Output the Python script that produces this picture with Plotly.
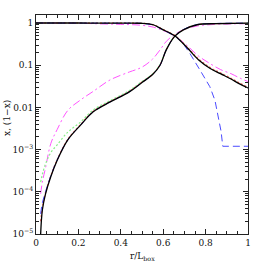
import plotly.graph_objects as go

# ---- data ----
r_rise = [0.022, 0.03, 0.045, 0.07, 0.1, 0.15, 0.21, 0.27, 0.35, 0.44, 0.5, 0.55,
          0.585, 0.615, 0.655, 0.695, 0.76, 0.85, 0.93, 1.0]
x_black = [1.0e-5, 3.7e-5, 8.9e-5, 2.3e-4, 5.6e-4, 1.7e-3, 3.8e-3, 7.9e-3, 1.35e-2, 2.34e-2,
           3.9e-2, 6.0e-2, 0.10, 0.234, 0.49, 0.69, 0.91, 0.966, 0.977, 0.99]
x_blue = [3.0e-5, 5.5e-5, 1.0e-4, 2.4e-4, 5.7e-4, 1.7e-3, 3.8e-3, 7.9e-3, 1.35e-2, 2.34e-2,
          3.9e-2, 6.0e-2, 0.10, 0.235, 0.49, 0.70, 0.92, 0.975, 0.99, 0.995]
x_red = [2.0e-5, 4.2e-5, 9.5e-5, 2.4e-4, 5.8e-4, 1.75e-3, 3.9e-3, 8.1e-3, 1.38e-2, 2.4e-2,
         4.0e-2, 6.1e-2, 0.102, 0.236, 0.49, 0.69, 0.91, 0.966, 0.977, 0.99]
x_green = [1.7e-4, 2.6e-4, 4.6e-4, 8.5e-4, 1.3e-3, 2.6e-3, 4.5e-3, 8.7e-3, 1.45e-2, 2.5e-2,
           4.1e-2, 6.2e-2, 0.104, 0.238, 0.49, 0.69, 0.91, 0.966, 0.977, 0.99]
x_magenta = [9.0e-5, 1.7e-4, 3.7e-4, 1.4e-3, 3.0e-3, 8.5e-3, 1.5e-2, 2.4e-2, 4.5e-2, 6.9e-2,
             9.0e-2, 0.14, 0.23, 0.37, 0.54, 0.69, 0.85, 0.93, 0.955, 0.965]

r_fall = [0.0, 0.2, 0.3, 0.4, 0.49, 0.553, 0.6, 0.632, 0.656, 0.71, 0.766, 0.82, 0.87,
          0.92, 0.96, 1.0]
n_black = [1.0, 1.0, 0.998, 0.995, 0.988, 0.91, 0.69, 0.575, 0.49, 0.27, 0.135, 0.085,
           0.063, 0.047, 0.036, 0.029]
n_red = [1.0, 1.0, 0.998, 0.995, 0.988, 0.91, 0.70, 0.585, 0.50, 0.28, 0.142, 0.089,
         0.066, 0.049, 0.038, 0.030]
n_green = [1.0, 1.0, 0.998, 0.995, 0.988, 0.91, 0.69, 0.58, 0.495, 0.275, 0.138, 0.087,
           0.064, 0.048, 0.037, 0.0295]
n_magenta = [1.0, 0.99, 0.955, 0.93, 0.89, 0.80, 0.66, 0.57, 0.49, 0.30, 0.166, 0.11,
             0.079, 0.063, 0.05, 0.041]

r_fall_blue = [0.0, 0.2, 0.3, 0.4, 0.49, 0.553, 0.6, 0.632, 0.656, 0.69, 0.726, 0.774,
               0.82, 0.844, 0.857, 0.873, 0.881, 0.9, 0.95, 1.0]
n_blue = [1.0, 1.0, 0.998, 0.995, 0.988, 0.91, 0.69, 0.575, 0.49, 0.35, 0.19, 0.076,
          0.031, 0.0148, 0.0072, 0.0027, 0.0012, 0.0012, 0.0012, 0.0012]

y_tickvals = [1e-5, 1e-4, 1e-3, 0.01, 0.1, 1]
y_ticktext = ["10<sup>−5</sup>", "10<sup>−4</sup>", "10<sup>−3</sup>", "0.01", "0.1", "1"]
x_tickvals = [0, 0.2, 0.4, 0.6, 0.8, 1]
x_ticktext = ["0", "0.2", "0.4", "0.6", "0.8", "1"]

# ---- figure ----
fig = go.Figure()

styles = {
    "magenta": dict(color="#ff55ff", width=1, dash="8px,3px,2px,3px"),
    "green": dict(color="#88ee88", width=1.2, dash="2px,2px"),
    "red": dict(color="#ff6666", width=1.2, dash="2px,2px"),
    "blue": dict(color="#4b4bff", width=1, dash="7px,4px"),
    "black": dict(color="#000000", width=1.3),
}

series = [
    ("magenta", r_rise, x_magenta, r_fall, n_magenta),
    ("green", r_rise, x_green, r_fall, n_green),
    ("red", r_rise, x_red, r_fall, n_red),
    ("blue", r_rise, x_blue, r_fall_blue, n_blue),
    ("black", r_rise, x_black, r_fall, n_black),
]

for name, rr, xv, rf, nv in series:
    fig.add_trace(go.Scatter(x=rr, y=xv, mode="lines", line=styles[name],
                             line_shape="spline", showlegend=False, hoverinfo="skip"))
    shape = "linear" if name == "blue" else "spline"
    fig.add_trace(go.Scatter(x=rf, y=nv, mode="lines", line=styles[name],
                             line_shape=shape, showlegend=False, hoverinfo="skip"))

y_minor = [k * 10.0 ** e for e in range(-5, 1) for k in range(2, 10)]

axis_common = dict(showgrid=False, zeroline=False, showline=True, linecolor="#222222",
                   linewidth=1, mirror="ticks", ticks="inside", tickcolor="#222222",
                   tickwidth=1, ticklen=5,
                   tickfont=dict(family="DejaVu Serif", size=9, color="#111111"))

fig.update_xaxes(range=[0, 1], tickmode="array", tickvals=x_tickvals, ticktext=x_ticktext,
                 minor=dict(ticks="inside", ticklen=3, dtick=0.05, tickcolor="#222222",
                            showgrid=False),
                 **axis_common)
fig.update_yaxes(type="log", range=[-5, 0.19], tickmode="array", tickvals=y_tickvals,
                 ticktext=y_ticktext,
                 minor=dict(ticks="inside", ticklen=3, tickmode="array", tickvals=y_minor,
                            tickcolor="#222222", showgrid=False),
                 **axis_common)

fig.add_annotation(x=0.5, y=0, xref="paper", yref="paper", yshift=-15, yanchor="top",
                   text="r/L<sub>box</sub>", showarrow=False,
                   font=dict(family="DejaVu Serif", size=9, color="#111111"))
fig.add_annotation(x=0, y=0.53, xref="paper", yref="paper", xshift=-29, xanchor="center",
                   text="x, (1−x)", textangle=-90, showarrow=False,
                   font=dict(family="DejaVu Serif", size=9, color="#111111"))

fig.update_layout(width=262, height=262, margin=dict(l=36, r=14, t=15, b=28),
                  plot_bgcolor="white", paper_bgcolor="white")

fig.write_html("out.html", config={"displayModeBar": False},
               post_script="document.body.style.margin='0';document.body.style.overflow='hidden';")
